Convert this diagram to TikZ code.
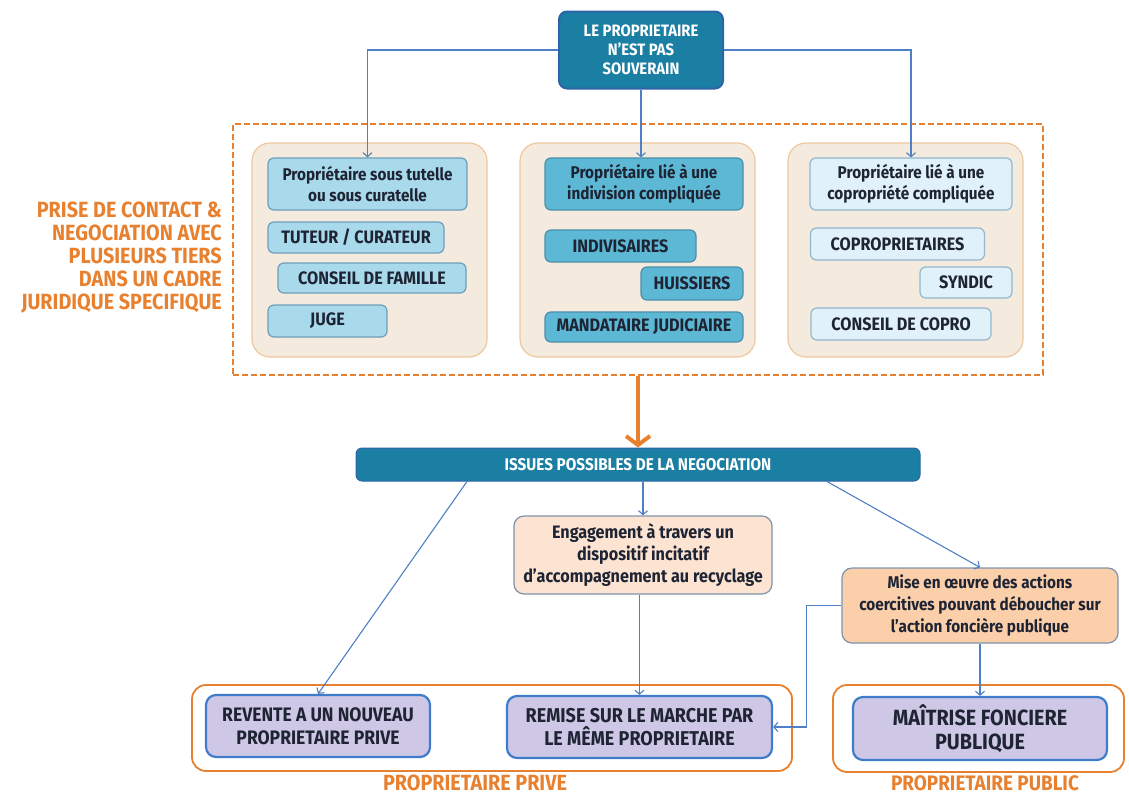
\documentclass[tikz,border=0pt]{standalone}
\usepackage{fontspec}
\setmainfont{Fira Sans}[FakeStretch=0.9]
\usetikzlibrary{arrows.meta}
\definecolor{teal}{HTML}{1B7FA3}
\definecolor{tealb}{HTML}{2D64A8}
\definecolor{txt}{HTML}{1E2433}
\definecolor{orng}{HTML}{E8812F}
\definecolor{beige}{HTML}{F4EADD}
\definecolor{beigeb}{HTML}{EEC89E}
\definecolor{lblue}{HTML}{A9DAEC}
\definecolor{lblueb}{HTML}{6E9FBA}
\definecolor{mblue}{HTML}{5DB8D5}
\definecolor{mblueb}{HTML}{4C8DAB}
\definecolor{pblue}{HTML}{E0F1F9}
\definecolor{pblueb}{HTML}{93B8CE}
\definecolor{linec}{HTML}{4F7FC4}
\definecolor{peach}{HTML}{FDE4D2}
\definecolor{peachb}{HTML}{7E93AB}
\definecolor{apric}{HTML}{FBCFAA}
\definecolor{lav}{HTML}{CEC7E5}
\definecolor{lavb}{HTML}{3F7DCC}
\tikzset{
  base/.style={rounded corners=6pt, align=center, inner sep=0pt, text=txt, font=\bfseries\fontsize{18}{21}\selectfont},
  tealbox/.style={base, fill=teal, draw=tealb, line width=2pt, text=white, rounded corners=8pt},
  panel/.style={rounded corners=18pt, fill=beige, draw=beigeb, line width=1.2pt, minimum width=235pt, minimum height=214pt},
  lb/.style={base, fill=lblue, draw=lblueb, line width=1.2pt},
  mb/.style={base, fill=mblue, draw=mblueb, line width=1.2pt},
  pb/.style={base, fill=pblue, draw=pblueb, line width=1.2pt},
  head/.style={font=\bfseries\fontsize{17}{21}\selectfont},
  frame/.style={draw=orng, dashed, dash pattern=on 6pt off 3pt, line width=1.8pt, minimum width=810pt, minimum height=251pt},
  peachbox/.style={base, fill=peach, draw=peachb, line width=1.2pt, rounded corners=10pt, font=\bfseries\fontsize{18}{22}\selectfont},
  apricbox/.style={base, fill=apric, draw=peachb, line width=1.2pt, rounded corners=10pt, font=\bfseries\fontsize{17}{22}\selectfont},
  lavbox/.style={base, fill=lav, draw=lavb, line width=2.2pt, rounded corners=10pt, font=\bfseries\fontsize{19.5}{23}\selectfont},
  group/.style={draw=orng, line width=1.8pt, rounded corners=14pt, fill=white},
  olabel/.style={text=orng, font=\bfseries\fontsize{22}{23}\selectfont, inner sep=0pt},
  conn/.style={draw=linec, line width=1.1pt, -{Straight Barb[length=4pt,width=9pt]}},
  bigarrow/.style={draw=orng, line width=4pt, -{Straight Barb[length=9pt,width=24pt]}},
}
\begin{document}
\begin{tikzpicture}[x=1pt,y=-1pt]
\useasboundingbox (0,0) rectangle (1129,796);
% top box
\node[tealbox, minimum width=164pt, minimum height=77pt, font=\bfseries\fontsize{16.5}{19}\selectfont] (top) at (641,50) {LE PROPRIETAIRE\\N'EST PAS\\SOUVERAIN};
% frame
\node[frame] (frame) at (638,249.5) {};
\node[olabel, anchor=east, align=right] (side) at (222,258) {PRISE DE CONTACT \&\\NEGOCIATION AVEC\\PLUSIEURS TIERS\\DANS UN CADRE\\JURIDIQUE SPECIFIQUE};
% panels
\node[panel] (p1) at (369.5,250) {};
\node[panel] (p2) at (637.5,250) {};
\node[panel] (p3) at (905.5,250) {};
% panel 1
\node[lb, head, minimum width=199pt, minimum height=52pt] (a1) at (367.5,184) {Propriétaire sous tutelle\\ou sous curatelle};
\node[lb, minimum width=176pt, minimum height=31pt] (a2) at (356,237.5) {TUTEUR / CURATEUR};
\node[lb, minimum width=188pt, minimum height=30pt] (a3) at (372,278) {CONSEIL DE FAMILLE};
\node[lb, minimum width=119pt, minimum height=32pt] (a4) at (327.5,321) {JUGE};
% panel 2
\node[mb, head, minimum width=198pt, minimum height=52pt] (b1) at (644,184) {Propriétaire lié à une\\indivision compliquée};
\node[mb, minimum width=151pt, minimum height=32pt] (b2) at (620.5,246) {INDIVISAIRES};
\node[mb, minimum width=102pt, minimum height=33pt] (b3) at (692,283.5) {HUISSIERS};
\node[mb, minimum width=198pt, minimum height=30pt] (b4) at (644,327) {MANDATAIRE JUDICIAIRE};
% panel 3
\node[pb, head, minimum width=202pt, minimum height=52pt] (c1) at (911,184) {Propriétaire lié à une\\copropriété compliquée};
\node[pb, minimum width=174pt, minimum height=32pt] (c2) at (897.5,244) {COPROPRIETAIRES};
\node[pb, minimum width=92pt, minimum height=31pt] (c3) at (966,282.5) {SYNDIC};
\node[pb, minimum width=180pt, minimum height=32pt] (c4) at (901,324) {CONSEIL DE COPRO};
% top connectors
\draw[conn] (top.west) -| (a1.north);
\draw[conn] (top.east) -| (c1.north);
\draw[conn] (top.south) -- (top.south |- b1.north);
% bar
\node[tealbox, minimum width=564pt, minimum height=33pt, line width=1pt, rounded corners=6pt, font=\bfseries\fontsize{17}{19}\selectfont] (bar) at (638,464.5) {ISSUES POSSIBLES DE LA NEGOCIATION};
\draw[bigarrow] (frame.south -| bar.north) -- (bar.north);
% middle boxes
\node[peachbox, minimum width=258pt, minimum height=78pt] (eng) at (643,555) {Engagement à travers un\\dispositif incitatif\\d’accompagnement au recyclage};
\node[apricbox, minimum width=276pt, minimum height=75pt] (mise) at (980,605.5) {Mise en œuvre des actions\\coercitives pouvant déboucher sur\\l’action foncière publique};
% bottom groups
\node[group, minimum width=600pt, minimum height=86pt] (priv) at (492,728) {};
\node[group, minimum width=291pt, minimum height=87pt] (publ) at (978.5,728.5) {};
\node[lavbox, minimum width=224pt, minimum height=62pt] (rev) at (318,726) {REVENTE A UN NOUVEAU\\PROPRIETAIRE PRIVE};
\node[lavbox, minimum width=265pt, minimum height=62pt, font=\bfseries\fontsize{20}{23}\selectfont] (rem) at (639.5,727) {REMISE SUR LE MARCHE PAR\\LE MÊME PROPRIETAIRE};
\node[lavbox, minimum width=254pt, minimum height=63pt, font=\bfseries\fontsize{22}{24}\selectfont] (mait) at (980,728.5) {MAÎTRISE FONCIERE\\PUBLIQUE};
\node[olabel] (lpriv) at (475,783) {PROPRIETAIRE PRIVE};
\node[olabel, font=\bfseries\fontsize{21}{22}\selectfont] (lpubl) at (985,783) {PROPRIETAIRE PUBLIC};
% lower connectors
\draw[conn] ([xshift=-171pt]bar.south) -- (rev.north);
\draw[conn] (bar.south -| eng.north) -- (eng.north);
\draw[conn] ([xshift=189pt]bar.south) -- (mise.north);
\draw[conn] (eng.south -| rem.north) -- (rem.north);
\draw[conn] (mise.west) -- ++(-35,0) |- (rem.east);
\draw[conn] (mise.south) -- (mait.north);
\end{tikzpicture}
\end{document}
